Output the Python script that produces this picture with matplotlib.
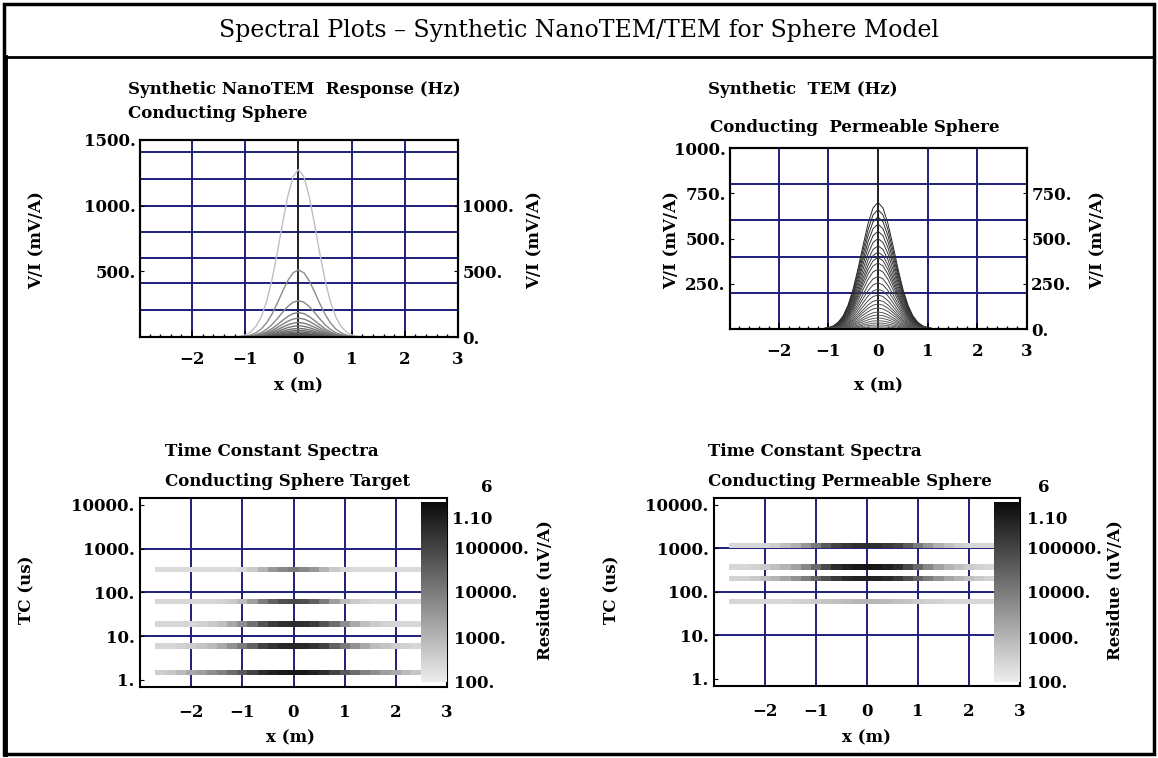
import numpy as np
import matplotlib
matplotlib.use("Agg")
import matplotlib.pyplot as plt
from matplotlib.colors import LogNorm, LinearSegmentedColormap
from matplotlib.patches import Rectangle
from matplotlib.lines import Line2D
import matplotlib.cm as cm

# ---------------- data ----------------
# station positions (m) for response profiles
x_prof = [-1.3, -1.2, -1.1, -1.0, -0.9, -0.8, -0.7, -0.6, -0.5, -0.4, -0.3, -0.2, -0.1,
          0.0, 0.1, 0.2, 0.3, 0.4, 0.5, 0.6, 0.7, 0.8, 0.9, 1.0, 1.1, 1.2, 1.3]
# normalised half-profiles at |x| = 0, 0.1, ... 1.3
nano_shape = [1.0, 0.958, 0.841, 0.678, 0.50, 0.339, 0.211, 0.12, 0.063, 0.03, 0.013, 0.005, 0.002, 0.0]
tem_shape = [1.0, 0.955, 0.832, 0.662, 0.48, 0.317, 0.191, 0.105, 0.053, 0.024, 0.010, 0.004, 0.001, 0.0]
# peak responses (mV/A) of each time gate
nano_peaks = [1275, 511, 277, 186, 143, 110, 85, 65, 50, 38, 28, 20, 14, 9, 5]
tem_peaks = [700, 660, 620, 580, 540, 500, 460, 425, 395, 365, 330, 290, 255, 220, 188,
             160, 138, 116, 94, 77, 61, 46, 33, 22, 12, 5]

# time-constant spectra
x_half_tc = [0.0, 0.2, 0.4, 0.6, 0.8, 1.0, 1.2, 1.4, 1.6, 1.8, 2.0, 2.2, 2.4, 2.6]
tc_nano = [1.47, 6.0, 19.0, 61.0, 337.0]
res_nano = [
    [631000, 575000, 398000, 251000, 100000, 39800, 19000, 8300, 4800, 2500, 1600, 760, 480, 360],
    [331000, 302000, 190000, 100000, 30000, 10000, 4000, 1600, 760, 525, 360, 300, 250, 250],
    [251000, 214000, 132000, 52000, 16000, 4800, 1600, 630, 400, 300, 250, 250, 250, 250],
    [76000, 63000, 30000, 10000, 2500, 760, 400, 300, 250, 250, 250, 250, 250, 250],
    [10000, 6300, 3300, 1000, 400, 250, 210, 210, 210, 210, 210, 210, 210, 210],
]
tc_tem = [1170.0, 373.0, 203.0, 59.0]
res_tem = [
    [251000, 229000, 158000, 100000, 39800, 10000, 3300, 1200, 630, 360, 250, 250, 250, 250],
    [631000, 575000, 398000, 251000, 76000, 21000, 6300, 2100, 1000, 630, 400, 300, 250, 250],
    [398000, 363000, 275000, 158000, 63000, 25000, 10000, 4000, 1900, 1000, 630, 400, 300, 300],
    [1000, 910, 760, 630, 525, 400, 330, 300, 250, 250, 250, 250, 250, 250],
]

nano_hgrid = [203, 410, 605, 800, 1000, 1206, 1412]
tem_hgrid = [200, 400, 600, 800]
tc_hgrid = [10, 100, 1000]
x_grid = [-2, -1, 1, 2]

# ---------------- layout helpers ----------------
W, H = 1158, 758
fig = plt.figure(figsize=(W / 100, H / 100), dpi=100)
FONT = "DejaVu Serif"
FS = 12
NAVY = "#1e1e7c"


def box(x0, y0, x1, y1):
    return [x0 / W, 1 - y1 / H, (x1 - x0) / W, (y1 - y0) / H]


def ftext(x, y, s, size=FS, rot=0, ha="left", va="center", weight="bold"):
    fig.text(x / W, 1 - y / H, s, fontsize=size, rotation=rot, ha=ha, va=va,
             family=FONT, weight=weight)


def mirror(half):
    return list(half[:0:-1]) + list(half)


def style_ticks(ax):
    for lab in ax.get_xticklabels() + ax.get_yticklabels():
        lab.set_family(FONT)
        lab.set_weight("bold")
        lab.set_fontsize(FS)
    for sp in ax.spines.values():
        sp.set_linewidth(1.5)


cmap = LinearSegmentedColormap.from_list("res", [(0.93, 0.93, 0.93), (0.04, 0.04, 0.04)])
norm = LogNorm(vmin=100, vmax=1e6)

# ---------------- frame ----------------
fig.add_artist(Rectangle((4 / W, 4 / H), (1150) / W, (750) / H, transform=fig.transFigure,
                         fill=False, lw=2.5, ec="black"))
fig.add_artist(Line2D([4 / W, 1154 / W], [1 - 57 / H, 1 - 57 / H], transform=fig.transFigure,
                      lw=2, color="black"))
fig.add_artist(Line2D([5 / W, 5 / W], [4 / H, 1 - 57 / H], transform=fig.transFigure,
                      lw=3.5, color="black"))
ftext(579, 30, "Spectral Plots – Synthetic NanoTEM/TEM for Sphere Model", size=17,
      ha="center", weight="normal")


# ---------------- response panels ----------------
def response_panel(rect, peaks, shape, ylim, hgrid, left_ticks, right_ticks, colors, lw):
    ax = fig.add_axes(box(*rect))
    full = np.array(mirror(shape))
    for pk, c in zip(peaks, colors):
        ax.plot(x_prof, pk * full, color=c, lw=lw, zorder=3)
    for g in hgrid:
        ax.axhline(g, color=NAVY, lw=1.4, zorder=1)
    for g in x_grid:
        ax.axvline(g, color=NAVY, lw=1.4, zorder=1)
    ax.axvline(0, color="#202020", lw=1.4, zorder=1)
    ax.set_xlim(-2.98, 3.0)
    ax.set_ylim(*ylim)
    ax.set_xticks([-2, -1, 0, 1, 2, 3])
    ax.set_xticks(np.arange(-2.8, 3.0, 0.2), minor=True)
    ax.set_yticks(left_ticks)
    ax.set_yticklabels([f"{t:g}." for t in left_ticks])
    ax.tick_params(axis="x", which="major", direction="in", length=4, width=1.2, pad=10)
    ax.tick_params(axis="x", which="minor", direction="in", length=2.5, width=1)
    ax.tick_params(axis="y", direction="in", length=3, pad=3)
    style_ticks(ax)
    ax2 = ax.twinx()
    ax2.set_ylim(*ylim)
    ax2.set_yticks(right_ticks)
    ax2.set_yticklabels([f"{t:g}." for t in right_ticks])
    ax2.tick_params(axis="y", direction="in", length=3, pad=3)
    style_ticks(ax2)
    return ax


nano_cols = [(0.74, 0.74, 0.8)] + [(g, g, g) for g in np.linspace(0.55, 0.3, len(nano_peaks) - 1)]
tem_cols = [(g, g, g) for g in np.linspace(0.15, 0.4, len(tem_peaks))]

response_panel((140, 140, 458, 337), nano_peaks, nano_shape, (0, 1500), nano_hgrid,
               [500, 1000, 1500], [0, 500, 1000], nano_cols, 1.0)
response_panel((730, 148, 1027, 329), tem_peaks, tem_shape, (0, 1000), tem_hgrid,
               [250, 500, 750, 1000], [0, 250, 500, 750], tem_cols, 0.7)

ftext(128, 89, "Synthetic NanoTEM  Response (Hz)")
ftext(128, 113, "Conducting Sphere")
ftext(708, 89, "Synthetic  TEM (Hz)")
ftext(710, 128, "Conducting  Permeable Sphere")
ftext(298, 386, "x (m)", ha="center")
ftext(878, 386, "x (m)", ha="center")
ftext(37, 240, "V/I (mV/A)", rot=90, ha="center")
ftext(535, 240, "V/I (mV/A)", rot=90, ha="center")
ftext(672, 240, "V/I (mV/A)", rot=90, ha="center")
ftext(1098, 240, "V/I (mV/A)", rot=90, ha="center")


# ---------------- time-constant spectra panels ----------------
def tc_panel(rect, cbrect, tcs, res):
    ax = fig.add_axes(box(*rect))
    ax.set_yscale("log")
    ax.set_xlim(-3.0, 3.0)
    ax.set_ylim(0.69, 14300)
    ax.hlines(tc_hgrid, -3.0, 2.5, color=NAVY, lw=1.4, zorder=1)
    for g in [-2, -1, 0, 1, 2]:
        ax.axvline(g, color=NAVY, lw=1.4, zorder=1)
    xs = np.array([-v for v in x_half_tc[:0:-1]] + list(x_half_tc))
    edges = np.concatenate([xs - 0.1, [xs[-1] + 0.1]])
    for tc, r in zip(tcs, res):
        vals = np.array(mirror(r), dtype=float)[None, :]
        ax.pcolormesh(edges, [tc / 1.15, tc * 1.15], vals, cmap=cmap, norm=norm,
                      shading="flat", zorder=2)
    ax.set_xticks([-2, -1, 0, 1, 2, 3])
    ax.set_yticks([1, 10, 100, 1000, 10000])
    ax.set_yticklabels(["1.", "10.", "100.", "1000.", "10000."])
    ax.yaxis.set_minor_locator(matplotlib.ticker.NullLocator())
    ax.tick_params(axis="x", length=0, pad=12)
    ax.tick_params(axis="y", direction="in", length=3, pad=4)
    style_ticks(ax)
    cax = fig.add_axes(box(*cbrect))
    sm = cm.ScalarMappable(norm=norm, cmap=cmap)
    cb = fig.colorbar(sm, cax=cax)
    cb.outline.set_visible(False)
    cb.set_ticks([100, 1000, 10000, 100000])
    cb.set_ticklabels(["100.", "1000.", "10000.", "100000."])
    cb.minorticks_off()
    cax.tick_params(length=0, pad=5)
    for lab in cax.get_yticklabels():
        lab.set_family(FONT)
        lab.set_weight("bold")
        lab.set_fontsize(FS)
    return ax


tc_panel((140, 498, 447, 687), (421, 502, 447, 682), tc_nano, res_nano)
tc_panel((714, 498, 1020, 686), (994, 502, 1020, 682), tc_tem, res_tem)

ftext(165, 451, "Time Constant Spectra")
ftext(165, 481, "Conducting Sphere Target")
ftext(708, 451, "Time Constant Spectra")
ftext(708, 481, "Conducting Permeable Sphere")
ftext(452, 519, "1.10")
ftext(487, 488, "6", ha="center")
ftext(1027, 519, "1.10")
ftext(1044, 488, "6", ha="center")
ftext(545, 590, "Residue (uV/A)", rot=90, ha="center")
ftext(1115, 590, "Residue (uV/A)", rot=90, ha="center")
ftext(27, 590, "TC (us)", rot=90, ha="center")
ftext(612, 590, "TC (us)", rot=90, ha="center")
ftext(290, 738, "x (m)", ha="center")
ftext(866, 738, "x (m)", ha="center")

fig.savefig("out.png", dpi=100, facecolor="white")
